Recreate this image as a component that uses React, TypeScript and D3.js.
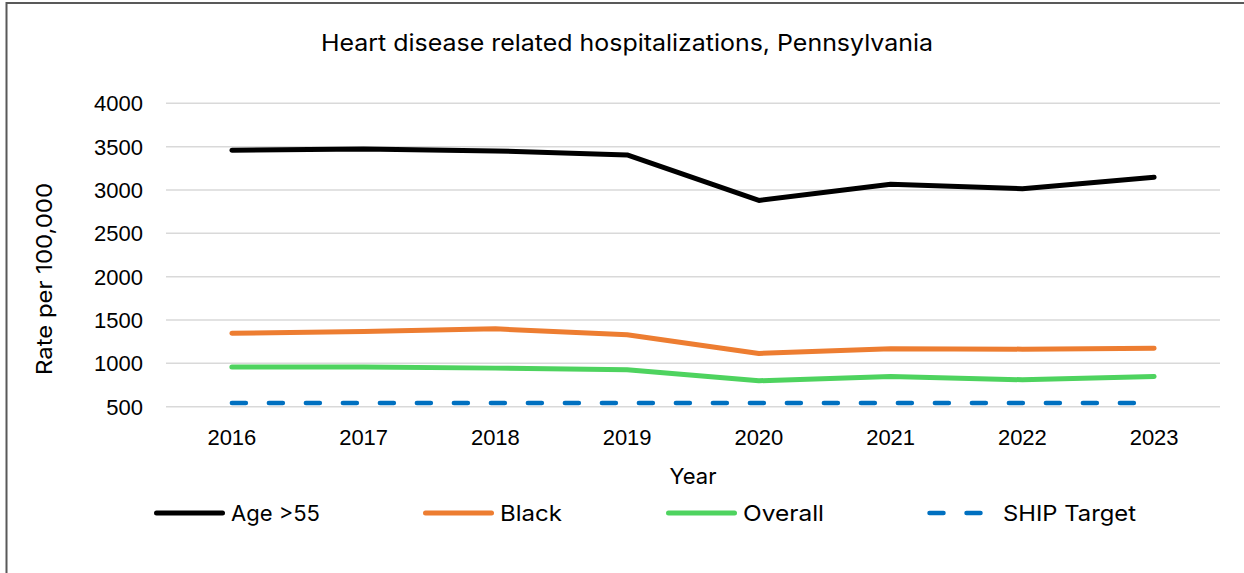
import React from "react";
import * as d3 from "d3";

const years = ["2016", "2017", "2018", "2019", "2020", "2021", "2022", "2023"];
const age55 = [3459, 3474, 3451, 3405, 2879, 3067, 3014, 3148];
const black = [1348, 1367, 1398, 1329, 1114, 1168, 1164, 1175];
const overall = [957, 957, 945, 926, 799, 849, 811, 849];
const shipTarget = [542, 542, 542, 542, 542, 542, 542, 542];
const yTicks = [500, 1000, 1500, 2000, 2500, 3000, 3500, 4000];

const seriesNames = ["Age >55", "Black", "Overall", "SHIP Target"];
const seriesValues = [age55, black, overall, shipTarget];
const seriesColors = ["#000000", "#ED7D31", "#4ED35F", "#0070C0"];
const seriesDash = [null, null, null, "14 23"];

const W = 1244;
const H = 573;
const plotL = 166;
const plotR = 1220;
const plotT = 103.3;
const plotB = 406.7;

const labelFont = "'Liberation Sans', Arial, sans-serif";
const titleFont = "Inter, 'Noto Sans', sans-serif";

const legendX = [154, 423, 666, 927];
const legendTextW = [89, 62, 81, 133];

export default function App() {
  const x = d3.scalePoint<string>().domain(years).range([plotL, plotR]).padding(0.5);
  const y = d3.scaleLinear().domain([500, 4000]).range([plotB, plotT]);
  const line = d3
    .line<number>()
    .x((_, i) => x(years[i]) as number)
    .y((d) => y(d));

  return (
    <svg
      width={W}
      height={H}
      style={{ position: "absolute", left: 0, top: 0, background: "#fff" }}
    >
      <rect x={0} y={0} width={W} height={H} fill="#fff" />
      {/* border top & left */}
      <line x1={6.5} y1={3} x2={W} y2={3} stroke="#595959" strokeWidth={2} />
      <line x1={6.5} y1={2} x2={6.5} y2={H} stroke="#595959" strokeWidth={2} />

      <text
        x={627}
        y={51}
        fontFamily={titleFont}
        fontSize={23}
        textAnchor="middle"
        fill="#000"
        textLength={612}
        lengthAdjust="spacingAndGlyphs"
      >
        Heart disease related hospitalizations, Pennsylvania
      </text>

      {/* gridlines */}
      {yTicks.map((t) => (
        <line
          key={"g" + t}
          x1={plotL}
          x2={plotR}
          y1={y(t)}
          y2={y(t)}
          stroke="#D9D9D9"
          strokeWidth={1.5}
        />
      ))}
      {yTicks.map((t) => (
        <text
          key={"yl" + t}
          x={143}
          y={y(t)}
          dy="0.36em"
          textAnchor="end"
          fontFamily={labelFont}
          fontSize={22}
          fill="#000"
        >
          {t}
        </text>
      ))}
      {years.map((yr) => (
        <text
          key={"xl" + yr}
          x={x(yr) as number}
          y={445}
          textAnchor="middle"
          fontFamily={labelFont}
          fontSize={22}
          fill="#000"
        >
          {yr}
        </text>
      ))}

      <text
        x={693}
        y={484}
        textAnchor="middle"
        fontFamily={titleFont}
        fontSize={22}
        fill="#000"
      >
        Year
      </text>
      <text
        transform="translate(52,279) rotate(-90)"
        textAnchor="middle"
        fontFamily={titleFont}
        fontSize={22}
        fill="#000"
        textLength={192}
        lengthAdjust="spacingAndGlyphs"
      >
        Rate per 100,000
      </text>

      {/* series */}
      {seriesValues.map((vals, si) => (
        <path
          key={"s" + si}
          d={line(vals) || ""}
          fill="none"
          stroke={seriesColors[si]}
          strokeWidth={si === 3 ? 4.5 : 5}
          strokeLinecap="round"
          strokeLinejoin="round"
          strokeDasharray={seriesDash[si] || undefined}
        />
      ))}

      {/* legend */}
      {seriesNames.map((name, si) => (
        <g key={"lg" + si}>
          <line
            x1={legendX[si] + 2.5}
            x2={legendX[si] + 71 - 2.5}
            y1={513}
            y2={513}
            stroke={seriesColors[si]}
            strokeWidth={si === 3 ? 4.5 : 5}
            strokeLinecap="round"
            strokeDasharray={seriesDash[si] || undefined}
          />
          <text
            x={si === 3 ? 1003 : legendX[si] + 77}
            y={521}
            fontFamily={titleFont}
            fontSize={22}
            fill="#000"
            textLength={legendTextW[si]}
            lengthAdjust="spacingAndGlyphs"
          >
            {name}
          </text>
        </g>
      ))}
    </svg>
  );
}
